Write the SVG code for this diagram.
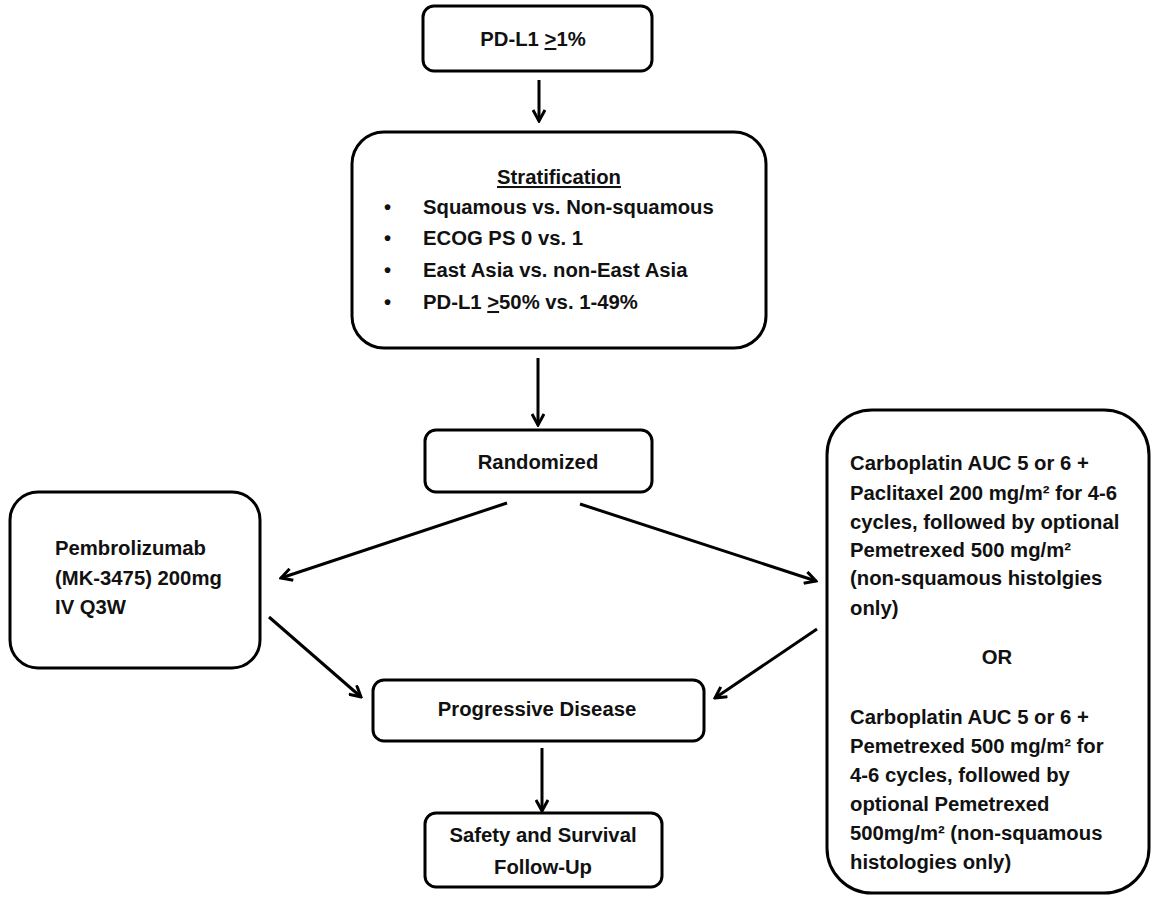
<svg xmlns="http://www.w3.org/2000/svg" width="1152" height="897" viewBox="0 0 1152 897">
<defs>
<style>
.box{fill:#fff;stroke:#000;stroke-width:3}
.t{font-family:"Liberation Sans",Arial,sans-serif;font-weight:bold;font-size:20.3px;fill:#111}
.c{text-anchor:middle}
.ln{stroke:#000;stroke-width:3;fill:none;marker-end:url(#ah)}
</style>
<marker id="ah" markerUnits="userSpaceOnUse" viewBox="0 0 14 14" refX="12" refY="7" markerWidth="14" markerHeight="14" orient="auto">
<path d="M1,1 L12,7 L1,13" fill="none" stroke="#000" stroke-width="3"/>
</marker>
</defs>
<rect width="1152" height="897" fill="#fff"/>
<g id="connectors">
<line class="ln" x1="539" y1="80" x2="539" y2="121"/>
<line class="ln" x1="538" y1="358" x2="538" y2="425"/>
<line class="ln" x1="507" y1="503" x2="281" y2="578"/>
<line class="ln" x1="580" y1="504" x2="816" y2="581"/>
<line class="ln" x1="269" y1="617" x2="361" y2="697"/>
<line class="ln" x1="817" y1="629" x2="715" y2="698"/>
<line class="ln" x1="542" y1="748" x2="542" y2="811"/>
</g>
<g id="pdl1">
<rect class="box" x="423" y="6" width="229" height="65" rx="11"/>
<text class="t c" x="533" y="46">PD-L1 <tspan text-decoration="underline">&gt;</tspan>1%</text>
</g>
<g id="stratification">
<rect class="box" x="352" y="132" width="414" height="216" rx="32"/>
<text class="t c" x="559" y="184" text-decoration="underline">Stratification</text>
<text class="t" x="384" y="214">•</text><text class="t" x="423" y="214">Squamous vs. Non-squamous</text>
<text class="t" x="384" y="245">•</text><text class="t" x="423" y="245">ECOG PS 0 vs. 1</text>
<text class="t" x="384" y="277">•</text><text class="t" x="423" y="277">East Asia vs. non-East Asia</text>
<text class="t" x="384" y="309">•</text><text class="t" x="423" y="309">PD-L1 <tspan text-decoration="underline">&gt;</tspan>50% vs. 1-49%</text>
</g>
<g id="randomized">
<rect class="box" x="425" y="430" width="227" height="62" rx="11"/>
<text class="t c" x="538" y="469">Randomized</text>
</g>
<g id="pembrolizumab">
<rect class="box" x="10" y="492" width="250" height="176" rx="28"/>
<text class="t" x="55" y="555">Pembrolizumab</text>
<text class="t" x="55" y="585">(MK-3475) 200mg</text>
<text class="t" x="55" y="614">IV Q3W</text>
</g>
<g id="chemo">
<rect class="box" x="827" y="410" width="322" height="483" rx="45"/>
<text class="t" x="850" y="470">Carboplatin AUC 5 or 6 +</text>
<text class="t" x="850" y="500">Paclitaxel 200 mg/m² for 4-6</text>
<text class="t" x="850" y="529">cycles, followed by optional</text>
<text class="t" x="850" y="557">Pemetrexed 500 mg/m²</text>
<text class="t" x="850" y="585">(non-squamous histolgies</text>
<text class="t" x="850" y="615">only)</text>
<text class="t c" x="997" y="664">OR</text>
<text class="t" x="850" y="724">Carboplatin AUC 5 or 6 +</text>
<text class="t" x="850" y="753">Pemetrexed 500 mg/m² for</text>
<text class="t" x="850" y="782">4-6 cycles, followed by</text>
<text class="t" x="850" y="811">optional Pemetrexed</text>
<text class="t" x="850" y="840">500mg/m² (non-squamous</text>
<text class="t" x="850" y="869">histologies only)</text>
</g>
<g id="progressive">
<rect class="box" x="373" y="680" width="331" height="61" rx="11"/>
<text class="t c" x="537" y="716">Progressive Disease</text>
</g>
<g id="safety">
<rect class="box" x="425" y="813" width="237" height="74" rx="11"/>
<text class="t c" x="543" y="842">Safety and Survival</text>
<text class="t c" x="543" y="874">Follow-Up</text>
</g>
</svg>
